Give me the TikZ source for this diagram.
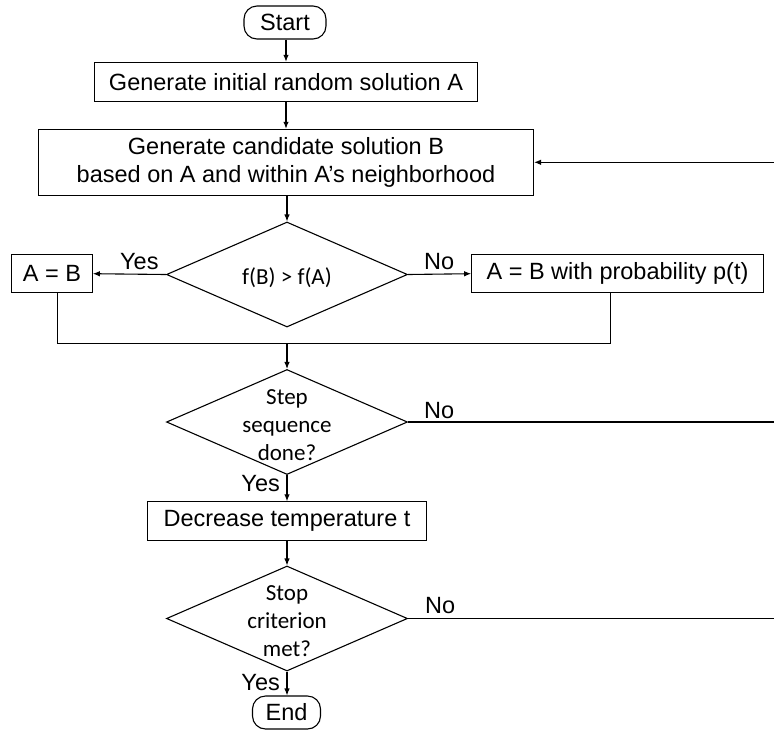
\documentclass[tikz,border=0pt]{standalone}
\usepackage{fontspec}
\setmainfont{Liberation Sans}
\newfontfamily\calib{Carlito}
\usetikzlibrary{arrows.meta,shapes.geometric}
\begin{document}
\begin{tikzpicture}[x=1pt,y=-1pt,
  every node/.style={font=\fontsize{23.5}{28.2}\selectfont},
  ln/.style={line width=1.1pt, draw=black},
  arr/.style={ln, -{Latex[length=7pt,width=5.5pt]}},
  box/.style={ln, draw, rectangle, inner sep=0pt, align=center},
  term/.style={ln, draw, rectangle, rounded corners=13pt, inner sep=0pt, minimum width=#1, minimum height=33pt},
  dia/.style={ln, draw, diamond, inner sep=0pt, minimum width=241pt, minimum height=105pt},
  dtext/.style={font=\calib\fontsize{23}{28}\selectfont, align=center, inner sep=0pt, yshift=-3pt},
  lab/.style={inner sep=0pt}
]
\useasboundingbox (0,0) rectangle (774,729);

% nodes
\node[term=82pt] (start) at (285,22.5) {Start};
\node[box, minimum width=383pt, minimum height=38.7pt] (b1) at (286,81.7) {Generate initial random solution A};
\node[box, minimum width=495pt, minimum height=66pt] (b2) at (286,162.3) {Generate candidate solution B\\based on A and within A’s neighborhood};
\node[dia] (d1) at (287,274.5) {};
\node[dtext] (d1t) at (d1) {f(B) > f(A)};
\node[box, minimum width=80.6pt, minimum height=38pt] (ab) at (52,273.7) {A = B};
\node[box, minimum width=291.6pt, minimum height=38pt] (pt) at (617.5,273.7) {A = B with probability p(t)};
\node[dia] (d2) at (287,422) {};
\node[dtext] (d2t) at (d2) {Step\\sequence\\done?};
\node[box, minimum width=279.4pt, minimum height=38.3pt] (b3) at (287,521) {Decrease temperature t};
\node[dia] (d3) at (287,618.5) {};
\node[dtext] (d3t) at (d3) {Stop\\criterion\\met?};
\node[term=68pt] (end) at (286.5,712.5) {End};

% labels
\node[lab, anchor=base west] (y1) at (120,269) {Yes};
\node[lab, anchor=base west] (n1) at (424,269) {No};
\node[lab, anchor=base west] (n2) at (424,418) {No};
\node[lab, anchor=base east] (y2) at (280,491.7) {Yes};
\node[lab, anchor=base west] (n3) at (425,613) {No};
\node[lab, anchor=base east] (y3) at (280,690.7) {Yes};

% coordinates
\coordinate (r1) at (774,162.3);
\coordinate (rgt) at (774,0);
\coordinate (mrg) at (287,343.3);

% connectors
\draw[arr] (start.south -| b1.north) -- (b1.north);
\draw[arr] (b1.south) -- (b2.north);
\draw[arr] (r1) -- (b2.east);
\draw[arr] (b2.south -| d1.north) -- (d1.north);
\draw[arr] (d1.west) -- (ab.east);
\draw[arr] (d1.east) -- (pt.west);
\draw[ln] ([xshift=5.3pt]ab.south) |- (mrg) -| ([xshift=-6.8pt]pt.south);
\draw[arr] (mrg) -- (d2.north);
\draw[ln] (d2.east) -- (d2.east -| rgt);
\draw[arr] (d2.south) -- (b3.north);
\draw[arr] (b3.south) -- (d3.north);
\draw[ln] (d3.east) -- (d3.east -| rgt);
\draw[arr] (d3.south) -- (d3.south |- end.north);
\end{tikzpicture}
\end{document}
